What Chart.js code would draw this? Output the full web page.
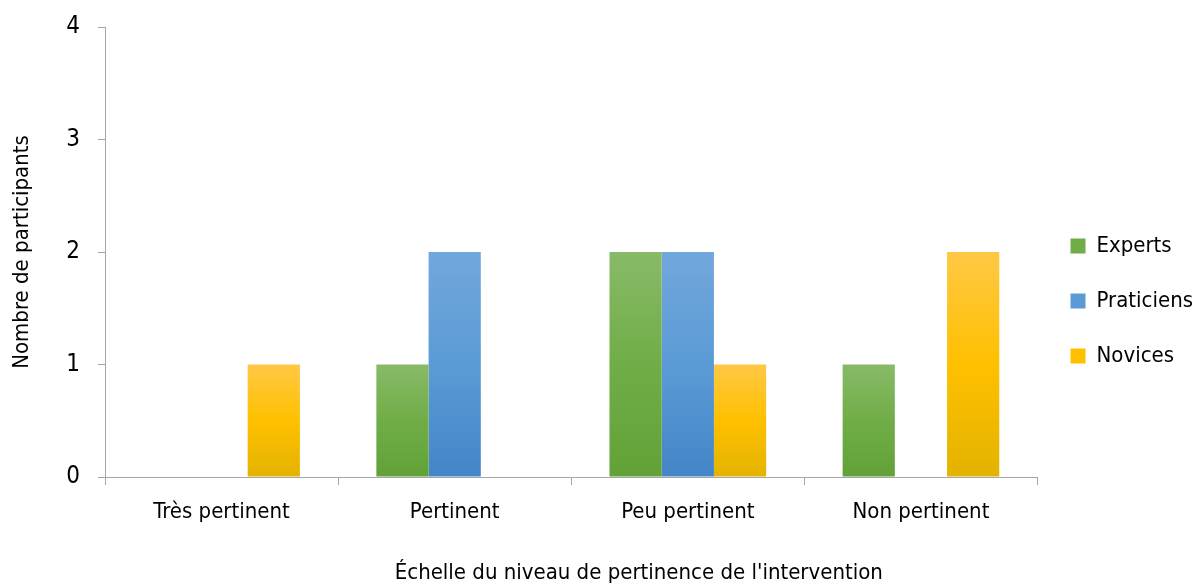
<!DOCTYPE html>
<html>
<head>
<meta charset="utf-8">
<script src="https://cdn.jsdelivr.net/npm/chart.js@4/dist/chart.umd.min.js"></script>
<style>
  html,body{margin:0;padding:0;background:#fff;}
  #wrap{width:1203px;height:586px;}
</style>
</head>
<body>
<div id="wrap"><canvas id="chart" width="1203" height="586"></canvas></div>
<script>
// données
const categories = ['Très pertinent', 'Pertinent', 'Peu pertinent', 'Non pertinent'];
const experts    = [0, 1, 2, 1];
const praticiens = [0, 2, 2, 0];
const novices    = [1, 0, 1, 2];
const yTicks     = [0, 1, 2, 3, 4];

const FONT = "'Liberation Sans Narrow', 'DejaVu Sans Condensed', sans-serif";
const AXIS = '#a6a6a6';

// dégradé vertical par barre (clair en haut, foncé en bas)
function grad(stops){
  return ctx => {
    const chart = ctx.chart;
    if(!chart.chartArea || ctx.raw === undefined) return stops[1];
    const y = chart.scales.y;
    const top = y.getPixelForValue(ctx.raw), bot = y.getPixelForValue(0);
    if(bot - top < 1) return stops[1];
    const g = chart.ctx.createLinearGradient(0, top, 0, bot);
    g.addColorStop(0, stops[0]);
    g.addColorStop(0.5, stops[1]);
    g.addColorStop(1, stops[2]);
    return g;
  };
}

// titre de l'axe X, centré comme dans l'original
const xTitle = {
  id:'xTitle',
  afterDraw(chart){
    const c = chart.ctx;
    c.save();
    c.font = '22px ' + FONT;
    c.fillStyle = '#000';
    c.textAlign = 'center';
    c.textBaseline = 'middle';
    c.fillText("Échelle du niveau de pertinence de l'intervention", chart.width*0.531, 573);
    c.restore();
  }
};

Chart.defaults.font.family = FONT;
Chart.defaults.color = '#000';

new Chart(document.getElementById('chart'), {
  type:'bar',
  data:{
    labels:categories,
    datasets:[
      {label:'Experts', data:experts, backgroundColor:grad(['#88ba67','#70ad47','#62a138']), legendColor:'#70ad47'},
      {label:'Praticiens', data:praticiens, backgroundColor:grad(['#72a7dc','#5b9bd5','#4385c8']), legendColor:'#5b9bd5'},
      {label:'Novices', data:novices, backgroundColor:grad(['#ffc845','#ffc000','#e3b300']), legendColor:'#ffc000'}
    ]
  },
  options:{
    responsive:false,
    animation:false,
    layout:{padding:{top:16, right:0, bottom:0, left:0}},
    datasets:{bar:{categoryPercentage:0.672, barPercentage:1}},
    plugins:{
      tooltip:{enabled:false},
      legend:{
        position:'right',
        labels:{
          font:{size:22},
          color:'#000',
          boxWidth:15, boxHeight:15,
          padding:33,
          generateLabels(chart){
            return chart.data.datasets.map((d,i)=>({
              text:d.label, fillStyle:d.legendColor, strokeStyle:d.legendColor,
              lineWidth:0, datasetIndex:i, hidden:false
            }));
          }
        }
      }
    },
    scales:{
      x:{
        grid:{drawOnChartArea:false, drawTicks:true, tickLength:8, color:AXIS, offset:true},
        border:{color:AXIS, width:1},
        ticks:{font:{size:22}, color:'#000', padding:14},
        afterFit(s){ s.height = 109; }
      },
      y:{
        min:0, max:4,
        afterBuildTicks(s){ s.ticks = yTicks.map(v=>({value:v})); },
        grid:{drawOnChartArea:false, drawTicks:true, tickLength:7, color:AXIS},
        border:{color:AXIS, width:1},
        ticks:{font:{size:24}, color:'#000', padding:18},
        title:{display:true, text:'Nombre de participants', font:{size:22}, color:'#000', padding:{top:9, bottom:0}},
        afterFit(s){ s.width = 105; s.paddingTop = 27; s.paddingBottom = 0; }
      }
    }
  },
  plugins:[xTitle]
});
</script>
</body>
</html>
